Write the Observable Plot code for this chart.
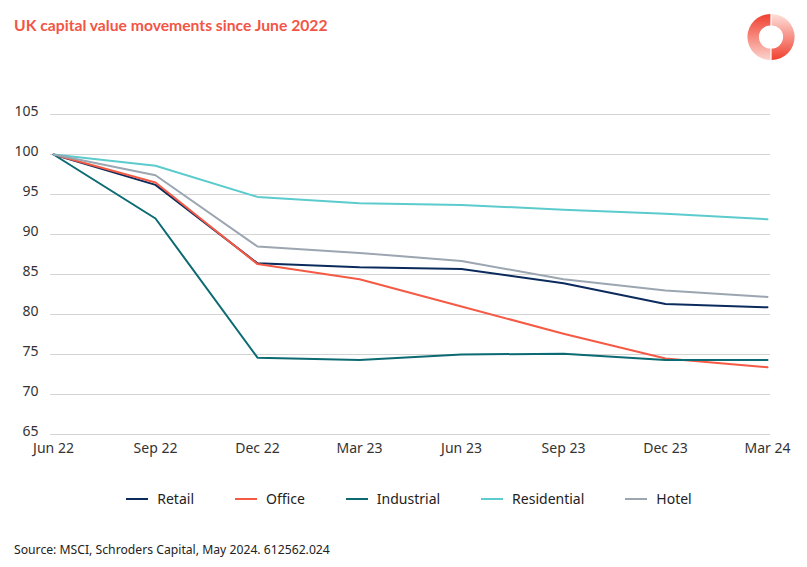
<!DOCTYPE html>
<html>
<head>
<meta charset="utf-8">
<script src="https://cdn.jsdelivr.net/npm/d3@7"></script>
<script src="https://cdn.jsdelivr.net/npm/@observablehq/plot@0.6"></script>
<style>
  html, body { margin: 0; padding: 0; background: #fff; }
  #page { position: relative; width: 807px; height: 567px; overflow: hidden; font-family: "Noto Sans", sans-serif; color: #333; }
  #title { position: absolute; left: 14px; top: 16px; font-family: Lato, "Noto Sans", sans-serif; font-size: 15.7px; font-weight: 700; color: #f25545; }
  #logo { position: absolute; left: 746px; top: 12px; }
  #chart { position: absolute; left: 0; top: 90px; }
  #legend { position: absolute; left: 50px; top: 489px; width: 718px; display: flex; justify-content: center; gap: 41px; font-size: 14px; color: #222; }
  .item { display: flex; align-items: center; gap: 9px; }
  .sw { width: 22px; height: 2px; }
  #source { position: absolute; left: 14px; top: 541px; font-size: 12.2px; color: #222; }
</style>
</head>
<body>
<div id="page">
  <div id="title">UK capital value movements since June 2022</div>
  <svg id="logo" width="50" height="50" viewBox="0 0 50 50">
    <defs>
      <linearGradient id="gl" x1="0" y1="0" x2="0" y2="1">
        <stop offset="0" stop-color="#f0402f"/>
        <stop offset="1" stop-color="#fbd3cd"/>
      </linearGradient>
      <linearGradient id="gr" x1="0" y1="0" x2="0" y2="1">
        <stop offset="0" stop-color="#fde0db"/>
        <stop offset="1" stop-color="#f0402f"/>
      </linearGradient>
    </defs>
    <path d="M24.4 2 A23 23 0 0 0 24.4 48 L24.4 36.5 A11.5 11.5 0 0 1 24.4 13.5 Z" fill="url(#gl)"/>
    <path d="M25.6 2 A23 23 0 0 1 25.6 48 L25.6 36.5 A11.5 11.5 0 0 0 25.6 13.5 Z" fill="url(#gr)"/>
  </svg>
  <div id="chart"></div>
  <div id="legend"></div>
  <div id="source">Source: MSCI, Schroders Capital, May 2024. 612562.024</div>
</div>
<script>
const quarters = ["Jun 22","Sep 22","Dec 22","Mar 23","Jun 23","Sep 23","Dec 23","Mar 24"];
const retail      = [100, 96.2, 86.4, 85.9, 85.7, 83.9, 81.3, 80.9];
const office      = [100, 96.5, 86.3, 84.4, 81.0, 77.6, 74.5, 73.4];
const industrial  = [100, 92.0, 74.6, 74.3, 75.0, 75.1, 74.3, 74.3];
const residential = [100, 98.6, 94.7, 93.9, 93.7, 93.1, 92.6, 91.9];
const hotel       = [100, 97.4, 88.5, 87.7, 86.7, 84.4, 83.0, 82.2];
const seriesNames = ["Retail","Office","Industrial","Residential","Hotel"];
const seriesColors = ["#0b2b5c","#f55a45","#0b6a72","#5ccbcd","#9ba6b1"];
const yTicks = [65,70,75,80,85,90,95,100,105];

const seriesValues = [retail, office, industrial, residential, hotel];
const data = seriesNames.flatMap((name, s) =>
  quarters.map((q, i) => ({quarter: q, value: seriesValues[s][i], series: name})));

const chart = Plot.plot({
  width: 807,
  height: 380,
  marginLeft: 50,
  marginRight: 37,
  marginTop: 24,
  marginBottom: 36,
  style: {fontFamily: "Noto Sans", fontSize: "13px", color: "#333", background: "transparent"},
  x: {type: "point", domain: quarters, padding: 0, label: null},
  y: {domain: [65, 105], label: null},
  color: {domain: seriesNames, range: seriesColors},
  marks: [
    Plot.gridY(yTicks, {stroke: "#d4d4d4", strokeOpacity: 1, strokeWidth: 1}),
    Plot.axisY(yTicks, {tickSize: 0, tickPadding: 12, dy: -3, label: null, fontSize: 14}),
    Plot.axisX({tickSize: 0, tickPadding: 9, label: null, fontSize: 14}),
    Plot.line(data, {x: "quarter", y: "value", z: "series", stroke: "series", strokeWidth: 2})
  ]
});
document.getElementById("chart").appendChild(chart);

const legend = document.getElementById("legend");
seriesNames.forEach((name, i) => {
  const item = document.createElement("div");
  item.className = "item";
  const sw = document.createElement("div");
  sw.className = "sw";
  sw.style.background = seriesColors[i];
  const t = document.createElement("span");
  t.textContent = name;
  item.appendChild(sw);
  item.appendChild(t);
  legend.appendChild(item);
});
</script>
</body>
</html>
